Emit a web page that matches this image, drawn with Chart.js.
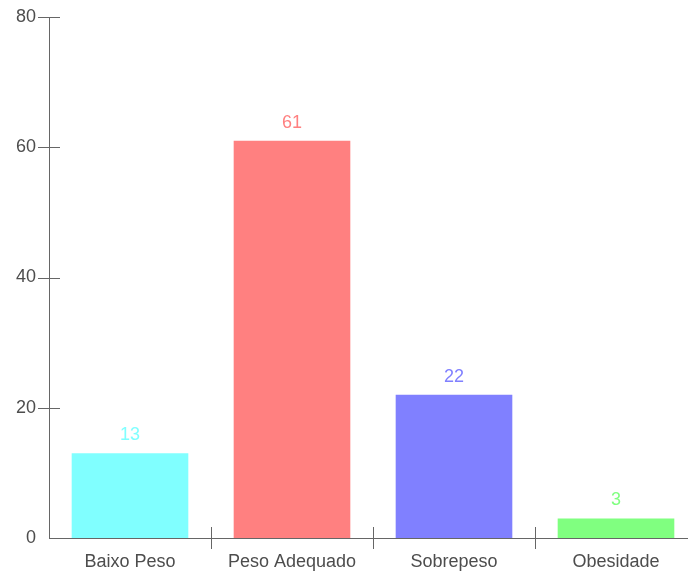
<!DOCTYPE html>
<html>
<head>
<meta charset="utf-8">
<script src="https://cdn.jsdelivr.net/npm/chart.js@4.4.1/dist/chart.umd.min.js"></script>
<style>
  html, body { margin: 0; padding: 0; background: #fff; overflow: hidden; }
  #wrap { position: relative; width: 697px; height: 571px; }
</style>
</head>
<body>
<div id="wrap"><canvas id="chart"></canvas></div>
<script>
const categories = ['Baixo Peso', 'Peso Adequado', 'Sobrepeso', 'Obesidade'];
const counts = [13, 61, 22, 3];
const barColors = ['#80ffff', '#ff8080', '#8080ff', '#80ff80'];
const yTicks = [0, 20, 40, 60, 80];

const axisColor = '#666';
const textColor = '#4d4d4d';
const font = { family: 'Arial, "Liberation Sans", sans-serif', size: 18 };

// tick marks that cross the axis lines, plus the value over each bar
const axisMarks = {
    id: 'axisMarks',
    afterDraw(chart) {
        const ctx = chart.ctx;
        const x = chart.scales.x;
        const y = chart.scales.y;
        ctx.save();
        ctx.strokeStyle = axisColor;
        ctx.lineWidth = 1;
        ctx.beginPath();
        yTicks.forEach(function(v) {
            if (v === 0) return;
            const py = Math.round(y.getPixelForValue(v)) + 0.5;
            ctx.moveTo(y.right - 11, py);
            ctx.lineTo(y.right + 11, py);
        });
        for (let i = 1; i < categories.length; i++) {
            const px = Math.round((x.getPixelForValue(i - 1) + x.getPixelForValue(i)) / 2) + 0.5;
            ctx.moveTo(px, x.top - 11);
            ctx.lineTo(px, x.top + 11);
        }
        ctx.stroke();

        ctx.font = font.size + 'px ' + font.family;
        ctx.textAlign = 'center';
        ctx.textBaseline = 'middle';
        chart.getDatasetMeta(0).data.forEach(function(bar, i) {
            ctx.fillStyle = barColors[i];
            ctx.fillText(String(counts[i]), bar.x, bar.y - 18);
        });
        ctx.restore();
    }
};

new Chart(document.getElementById('chart'), {
    type: 'bar',
    data: {
        labels: categories,
        datasets: [{
            data: counts,
            backgroundColor: barColors,
            borderWidth: 0,
            categoryPercentage: 1,
            barPercentage: 0.72
        }]
    },
    options: {
        responsive: true,
        maintainAspectRatio: false,
        animation: false,
        devicePixelRatio: 1,
        layout: { padding: { top: 17, left: 0, right: 0, bottom: 0 } },
        plugins: { legend: { display: false }, tooltip: { enabled: false } },
        scales: {
            x: {
                grid: { display: false, drawTicks: false },
                border: { display: true, color: axisColor, width: 1 },
                ticks: { color: textColor, font: font, padding: 13, maxRotation: 0 },
                afterFit: function(scale) {
                    scale.height = 33;
                    scale.paddingLeft = 0;
                    scale.paddingRight = 0;
                }
            },
            y: {
                min: 0,
                max: 80,
                afterBuildTicks: function(scale) {
                    scale.ticks = yTicks.map(function(v) { return { value: v }; });
                },
                grid: { display: false, drawTicks: false },
                border: { display: true, color: axisColor, width: 1 },
                ticks: { color: textColor, font: font, padding: 13 },
                afterFit: function(scale) {
                    scale.width = 49;
                    scale.paddingTop = 0;
                    scale.paddingBottom = 0;
                }
            }
        }
    },
    plugins: [axisMarks]
});
</script>
</body>
</html>
